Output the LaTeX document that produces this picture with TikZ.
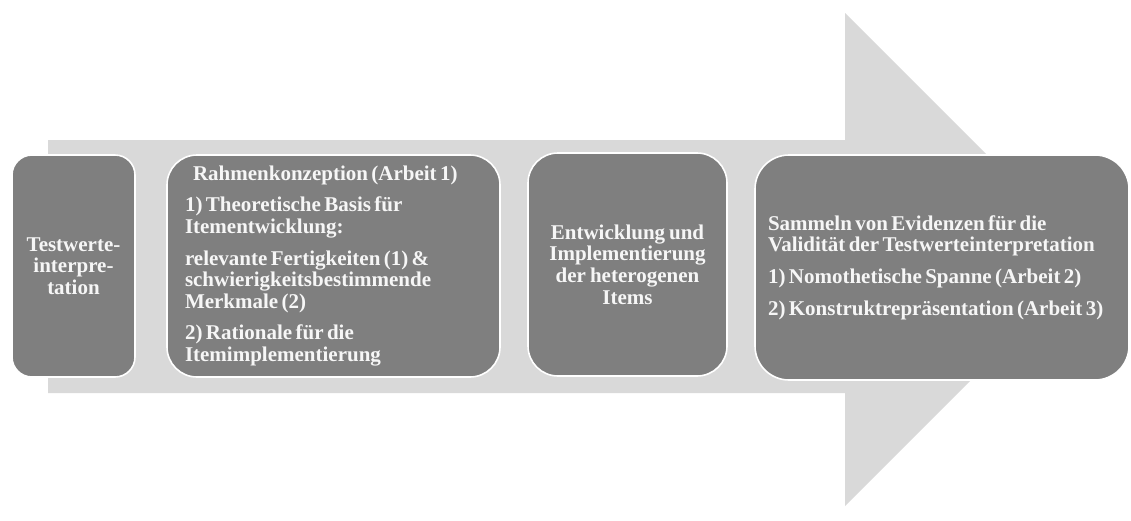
\documentclass[tikz,border=0pt]{standalone}
\usepackage{fontspec}
\setmainfont{Liberation Serif}
\newcommand\tightwords{\spaceskip=3.4pt plus 1pt minus 1pt\relax}
\begin{document}
\begin{tikzpicture}[x=1pt,y=-1pt,
  stagebox/.style={draw=white, line width=1.6pt, fill=boxgray, rounded corners=#1,
    text=boxtext, inner sep=0pt,
    font=\bfseries\fontsize{21}{21.6}\selectfont,
    execute at begin node=\tightwords},
  stagebox/.default=24pt]
\definecolor{boxgray}{HTML}{7F7F7F}
\definecolor{arrowgray}{HTML}{D9D9D9}
\definecolor{boxtext}{HTML}{F6F6F6}
\useasboundingbox (0,0) rectangle (1131,520);
% large background arrow
\fill[arrowgray] (48,140) -- (845,140) -- (845,13) -- (1091.5,259.5)
  -- (845,506) -- (845,393) -- (48,393) -- cycle;
% stages
\node[stagebox=20pt, minimum width=123pt, minimum height=222pt, align=center,
  text width=120pt] (interp) at (73.5,266) {Testwerte-\\interpre-\\tation};
\node[stagebox=30pt, minimum width=333pt, minimum height=222pt, align=left,
  text width=297pt] (rahmen) at (333.5,266)
  {\hspace*{8pt}Rahmenkonzeption (Arbeit 1)\\[10pt]
   1) Theoretische Basis für\\Itementwicklung:\\[10pt]
   relevante Fertigkeiten (1) \&\\schwierigkeitsbestimmende\\Merkmale (2)\\[10pt]
   2) Rationale für die\\Itemimplementierung};
\node[stagebox=30pt, minimum width=199pt, minimum height=223pt, align=center,
  text width=196pt] (items) at (627.5,264.5)
  {Entwicklung und\\Implementierung\\der heterogenen\\Items};
\node[stagebox=34pt, minimum width=374pt, minimum height=225pt, align=left,
  text width=348pt] (evidenz) at (942,267.5)
  {Sammeln von Evidenzen für die\\Validität der Testwerteinterpretation\\[10pt]
   1) Nomothetische Spanne (Arbeit 2)\\[10pt]
   2) Konstruktrepräsentation (Arbeit 3)};
\end{tikzpicture}
\end{document}
